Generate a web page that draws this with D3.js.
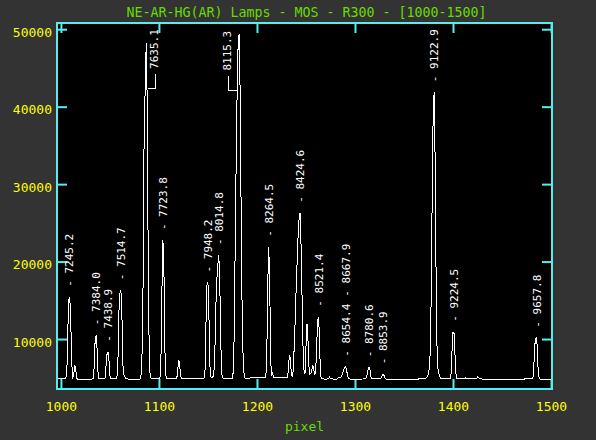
<!DOCTYPE html>
<html>
<head>
<meta charset="utf-8">
<script src="https://cdn.jsdelivr.net/npm/d3@7"></script>
<style>
  body { margin: 0; background: #333333; }
  text { font-family: "DejaVu Sans Mono", monospace; }
</style>
</head>
<body>
<div class="chart"></div>
<script>
const w = 596;
const h = 440;

const title = "NE-AR-HG(AR) Lamps - MOS - R300 - [1000-1500]";
const xLabel = "pixel";
const xTicks = [1000, 1100, 1200, 1300, 1400, 1500];
const yTicks = [10000, 20000, 30000, 40000, 50000];

// spectrum: [pixel, counts]
const spectrum = [
    [997, 4950], [1000, 4950], [1004, 4900], [1005, 4950], [1006, 5500],
    [1007, 11000], [1008, 15000], [1009, 15450], [1010, 12500], [1011, 7000],
    [1012, 5000], [1013, 5200], [1014, 6600], [1015, 6300], [1016, 5000],
    [1017, 4800], [1025, 4800], [1033, 4850], [1034, 6500], [1035, 10200],
    [1036, 10500], [1037, 8500], [1038, 5200], [1039, 4850], [1044, 4850],
    [1045, 5000], [1046, 6500], [1047, 8000], [1048, 8360], [1049, 7300],
    [1050, 5300], [1051, 4850], [1056, 4850], [1057, 4950], [1058, 6000],
    [1059, 13000], [1060, 15800], [1061, 16300], [1062, 15000], [1063, 7000],
    [1064, 5500], [1065, 5200], [1066, 4900], [1070, 4800], [1080, 4800],
    [1081, 4900], [1082, 5500], [1083, 9000], [1084, 19000], [1085, 39000],
    [1086, 42000], [1087, 48200], [1088, 41000], [1089, 21000], [1090, 9000],
    [1091, 5300], [1092, 4900], [1100, 4850], [1101, 4950], [1102, 7000],
    [1103, 16000], [1104, 22770], [1105, 20000], [1106, 9000], [1107, 5300],
    [1108, 4850], [1117, 4850], [1118, 4900], [1119, 5500], [1120, 7300],
    [1121, 7000], [1122, 5300], [1123, 4850], [1145, 4850], [1146, 4950],
    [1147, 6000], [1148, 12000], [1149, 17000], [1150, 17300], [1151, 13000],
    [1152, 6500], [1153, 5100], [1154, 5000], [1155, 5100], [1156, 5500],
    [1157, 8000], [1158, 14000], [1159, 17500], [1160, 19500], [1161, 20850],
    [1162, 18000], [1163, 10000], [1164, 5600], [1165, 5000], [1166, 4850],
    [1174, 4850], [1175, 4950], [1176, 6000], [1177, 12000], [1178, 25000],
    [1179, 35000], [1180, 44000], [1181, 49000], [1182, 49400], [1183, 40000],
    [1184, 24000], [1185, 12000], [1186, 7000], [1187, 5300], [1188, 4950],
    [1200, 5000], [1208, 5000], [1209, 5100], [1210, 7500], [1211, 17000],
    [1212, 21900], [1213, 17500], [1214, 7000], [1215, 5400], [1216, 5600],
    [1217, 5000], [1230, 5000], [1231, 5100], [1232, 5800], [1233, 7900],
    [1234, 7500], [1235, 5600], [1236, 5100], [1237, 6000], [1238, 9000],
    [1239, 12500], [1240, 16500], [1241, 20000], [1242, 23500], [1243, 25500],
    [1244, 26300], [1245, 22000], [1246, 15500], [1247, 9000], [1248, 6000],
    [1249, 5500], [1250, 9000], [1251, 12000], [1252, 10000], [1253, 6500],
    [1254, 5500], [1255, 5600], [1256, 6000], [1257, 6600], [1258, 6000],
    [1259, 5400], [1260, 6000], [1261, 9500], [1262, 12500], [1263, 12880],
    [1264, 8500], [1265, 5200], [1266, 4900], [1270, 4800], [1273, 4900],
    [1274, 5100], [1275, 4900], [1279, 4800], [1282, 4850], [1284, 5100],
    [1285, 5000], [1286, 5100], [1287, 5400], [1288, 5800], [1289, 6200],
    [1290, 6430], [1291, 6200], [1292, 5600], [1293, 5100], [1294, 4900],
    [1295, 4800], [1311, 4850], [1312, 5200], [1313, 5900], [1314, 6350],
    [1315, 6300], [1316, 5300], [1317, 4850], [1326, 4850], [1327, 5000],
    [1328, 5350], [1329, 5440], [1330, 5200], [1331, 4900], [1332, 4800],
    [1360, 4800], [1372, 4900], [1373, 5000], [1374, 5200], [1375, 5600],
    [1376, 6400], [1377, 9000], [1378, 18000], [1379, 32000], [1380, 41000],
    [1381, 41870], [1382, 30000], [1383, 14000], [1384, 7000], [1385, 5800],
    [1386, 5300], [1387, 5000], [1388, 4850], [1396, 4850], [1397, 4900],
    [1398, 5500], [1399, 8500], [1400, 10940], [1401, 10800], [1402, 8000],
    [1403, 5500], [1404, 4900], [1412, 4850], [1413, 5000], [1414, 4850],
    [1424, 4850], [1425, 5130], [1426, 5050], [1427, 4850], [1440, 4800],
    [1481, 4850], [1482, 5300], [1483, 8000], [1484, 10100], [1485, 10170],
    [1486, 9000], [1487, 5500], [1488, 4900], [1489, 4800], [1501, 4800]
];

// identified lines: [wavelength, pixel, peak counts]
const lines = [
    ["7245.2", 1008.7, 15450],
    ["7384.0", 1035.8, 10500],
    ["7438.9", 1047.8, 8360],
    ["7514.7", 1061.2, 16300],
    ["7723.8", 1104.4, 22770],
    ["7948.2", 1150.2, 17300],
    ["8014.8", 1161.3, 20850],
    ["8264.5", 1212.3, 21900],
    ["8424.6", 1243.9, 26300],
    ["8521.4", 1263.3, 12880],
    ["8654.4", 1290.5, 6430],
    ["8667.9", 1290.8, 6430],
    ["8780.6", 1314.6, 6350],
    ["8853.9", 1328.9, 5440],
    ["9122.9", 1380.6, 41870],
    ["9224.5", 1401.0, 10940],
    ["9657.8", 1485.4, 10170]
];

// lines too tall to label above: [wavelength, peak pixel, leader pixel, leader level, label level]
const leaderLines = [
    ["7635.1", 1088.5, 1096.0, 42290, 44220],
    ["8115.3", 1180.5, 1170.8, 42080, 44010]
];

const frame = { left: 57, right: 552, top: 23, bottom: 389 };

const svg = d3.select(".chart").append("svg")
    .attr("width", w)
    .attr("height", h);

const x = d3.scaleLinear().domain([996, 1501]).range([frame.left, frame.right]);
const y = d3.scaleLinear().domain([3550, 50800]).range([frame.bottom, frame.top]);

svg.append("rect")
    .attr("x", frame.left).attr("y", frame.top)
    .attr("width", frame.right - frame.left)
    .attr("height", frame.bottom - frame.top)
    .attr("fill", "#000");

svg.append("text")
    .attr("x", (frame.left + frame.right) / 2 + 2)
    .attr("y", 16.5)
    .attr("text-anchor", "middle")
    .attr("font-size", 13.3)
    .attr("fill", "#66dd00")
    .text(title);

svg.append("text")
    .attr("x", (frame.left + frame.right) / 2)
    .attr("y", 431)
    .attr("text-anchor", "middle")
    .attr("font-size", 13)
    .attr("fill", "#66dd00")
    .text(xLabel);

const cyan = "#55eeee";

function styleAxis(g) {
    g.select(".domain").remove();
    g.selectAll(".tick line").attr("stroke", cyan).attr("stroke-width", 2);
    g.selectAll(".tick text").attr("fill", "#ffff00").attr("font-size", 13)
        .attr("font-family", "DejaVu Sans Mono, monospace");
}

svg.append("g")
    .attr("transform", `translate(0,${frame.bottom})`)
    .call(d3.axisBottom(x).tickValues(xTicks).tickSize(-10).tickPadding(13).tickFormat(d3.format("d")))
    .call(styleAxis);
svg.append("g")
    .attr("transform", `translate(0,${frame.top})`)
    .call(d3.axisTop(x).tickValues(xTicks).tickSize(-10).tickFormat(""))
    .call(styleAxis);
svg.append("g")
    .attr("transform", `translate(${frame.left},0)`)
    .call(d3.axisLeft(y).tickValues(yTicks).tickSize(-10).tickPadding(5).tickFormat(d3.format("d")))
    .call(styleAxis)
    .call(g => g.selectAll(".tick text").attr("dy", "0.55em"));
svg.append("g")
    .attr("transform", `translate(${frame.right},0)`)
    .call(d3.axisRight(y).tickValues(yTicks).tickSize(-10).tickFormat(""))
    .call(styleAxis);

svg.append("path")
    .datum(spectrum)
    .attr("fill", "none")
    .attr("stroke", "#fff")
    .attr("stroke-width", 1)
    .attr("shape-rendering", "crispEdges")
    .attr("d", d3.line().x(d => x(d[0])).y(d => y(d[1])));

// line labels, stacked when two lines share a position
const labelG = svg.append("g")
    .attr("fill", "#fff")
    .attr("font-size", 11);
let prev = null;
lines.forEach(([wl, px, peak]) => {
    const lx = x(px);
    let start = y(peak) - 10;
    if (prev && Math.abs(lx - prev.x) < 4) start = prev.start - prev.len - 7;
    const t = labelG.append("text")
        .attr("transform", `translate(${lx},${start}) rotate(-90)`)
        .attr("dy", "0.35em")
        .text("- " + wl);
    prev = { x: lx, start: start, len: t.node().getComputedTextLength() };
});

leaderLines.forEach(([wl, peakPx, lPx, level, top]) => {
    svg.append("path")
        .attr("fill", "none")
        .attr("stroke", "#fff")
        .attr("shape-rendering", "crispEdges")
        .attr("d", d3.line()([[x(peakPx), y(level)], [x(lPx), y(level)], [x(lPx), y(top)]]));
    labelG.append("text")
        .attr("transform", `translate(${x(lPx) - 1},${y(top) - 5}) rotate(-90)`)
        .attr("dy", "0.35em")
        .text(wl);
});

svg.append("rect")
    .attr("x", frame.left).attr("y", frame.top)
    .attr("width", frame.right - frame.left)
    .attr("height", frame.bottom - frame.top)
    .attr("fill", "none")
    .attr("stroke", cyan)
    .attr("stroke-width", 2);
</script>
</body>
</html>
